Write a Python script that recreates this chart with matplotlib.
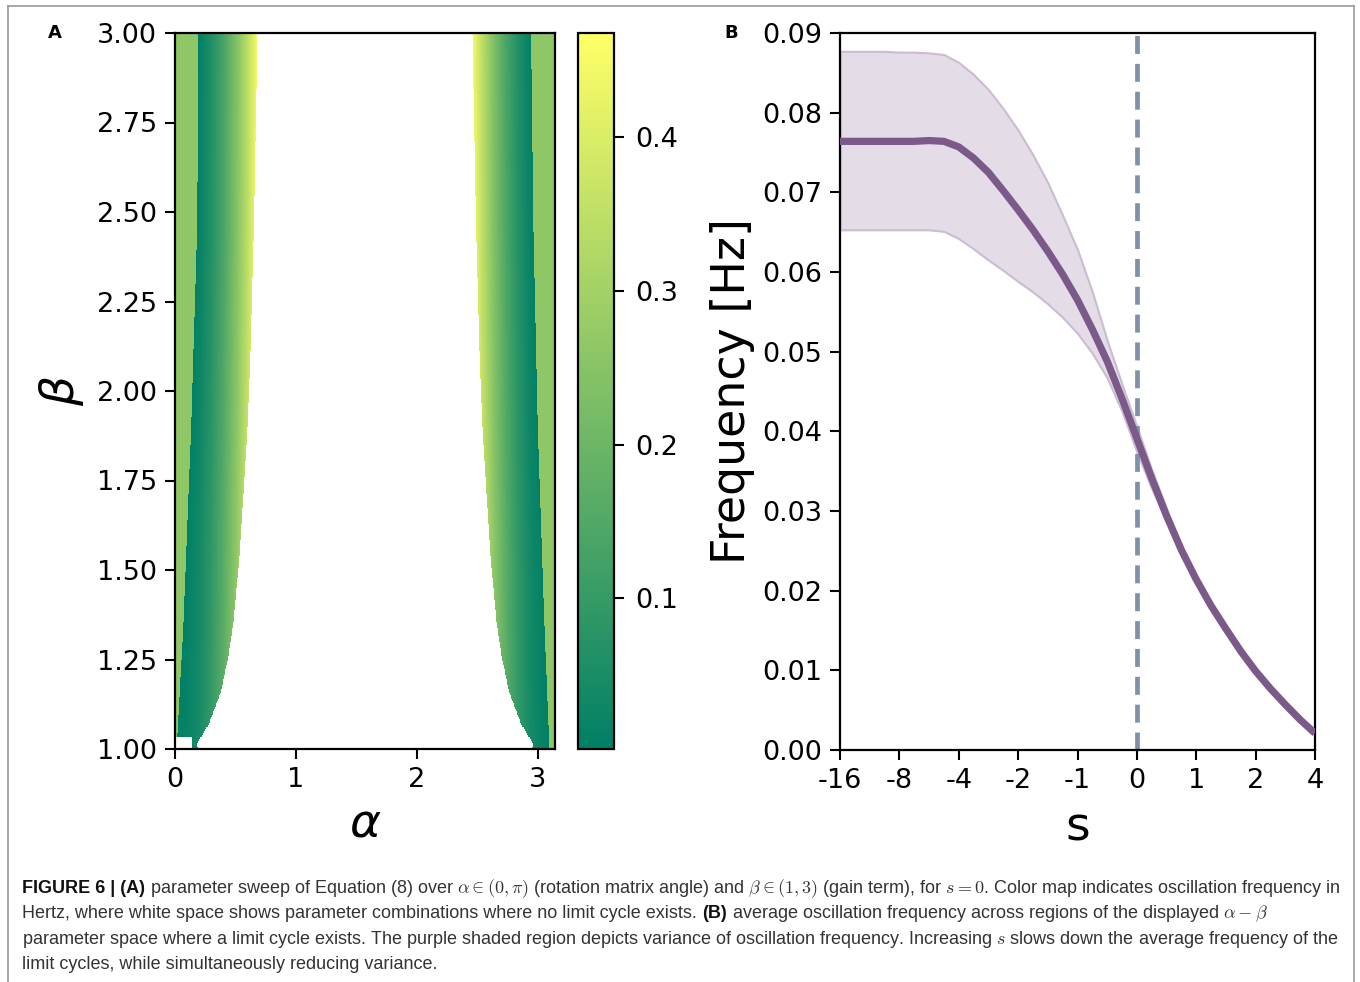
import numpy as np
import matplotlib
matplotlib.use("Agg")
import matplotlib.pyplot as plt
from matplotlib.lines import Line2D

# ---- panel A: limit-cycle frequency over (alpha, beta) ----
# outer edge of each lobe, measured from the nearest end of the alpha range
beta_edge = [1.0, 1.01, 1.067, 1.16, 1.255, 1.35, 1.535, 1.72, 1.905, 2.09, 2.46, 3.0]
lobe_reach = [0.19, 0.175, 0.276, 0.38, 0.437, 0.479, 0.53, 0.565, 0.598, 0.62, 0.65, 0.68]
# dark ridge (lowest frequency) inside each lobe
beta_ridge_left = [1.0, 1.35, 1.9, 2.46, 3.0]
ridge_left = [0.01, 0.066, 0.13, 0.18, 0.19]
beta_ridge_right = [1.0, 1.35, 1.905, 2.46, 3.0]
ridge_right = [0.042, 0.084, 0.139, 0.175, 0.194]
# frequency rise along alpha, away from the ridge
rise_alpha = [0.0, 0.1, 0.2, 0.3, 0.4, 0.5, 0.6, 0.7]
rise_freq = [0.0, 0.012, 0.042, 0.095, 0.17, 0.265, 0.38, 0.515]
ridge_freq = 0.006
strip_freq = 0.265
notch_beta, notch_alpha = 1.03, 0.14
cbar_ticks = [0.1, 0.2, 0.3, 0.4]

# ---- panel B: mean frequency vs s (read at quarter steps of the tick index) ----
s_labels = ['-16', '-8', '-4', '-2', '-1', '0', '1', '2', '4']
s_pos = [i * 0.25 for i in range(33)]
freq_mean = [0.0764, 0.0764, 0.0764, 0.0764, 0.0764, 0.0764, 0.0765, 0.0764, 0.0757,
             0.0743, 0.0725, 0.0702, 0.0678, 0.0653, 0.0626, 0.0597, 0.0565, 0.0528,
             0.0488, 0.0441, 0.0391, 0.0341, 0.0294, 0.0251, 0.0214, 0.0181, 0.0152,
             0.0124, 0.0099, 0.0077, 0.0057, 0.0038, 0.0021]
freq_hi = [0.0877, 0.0877, 0.0877, 0.0877, 0.0876, 0.0876, 0.0875, 0.0873, 0.0863,
           0.0848, 0.0829, 0.0805, 0.0778, 0.0747, 0.0712, 0.0671, 0.0628, 0.0575,
           0.0514, 0.0459, 0.0406, 0.0352, 0.0303, 0.0256, 0.0216, 0.0181, 0.0152,
           0.0124, 0.0099, 0.0077, 0.0057, 0.0038, 0.0021]
freq_lo = [0.0653, 0.0653, 0.0653, 0.0653, 0.0653, 0.0653, 0.0653, 0.0651, 0.0642,
           0.0629, 0.0615, 0.0602, 0.0588, 0.0575, 0.0560, 0.0543, 0.0523, 0.0498,
           0.0467, 0.0425, 0.0374, 0.0328, 0.0287, 0.0249, 0.0212, 0.0181, 0.0152,
           0.0124, 0.0099, 0.0077, 0.0057, 0.0038, 0.0021]
s_zero = 5

W, H = 1360, 982
fig = plt.figure(figsize=(W / 100, H / 100), dpi=100)
plt.rcParams['font.family'] = 'DejaVu Sans'


def px_axes(l, t, r, b):
    return fig.add_axes([l / W, 1 - b / H, (r - l) / W, (b - t) / H])


axA = px_axes(175, 33, 555, 749)
cax = px_axes(578, 33, 614, 749)
axB = px_axes(840, 33, 1315, 750)

# build the frequency map
alpha = np.linspace(0, np.pi, 380)
beta = np.linspace(1, 3, 360)
A, Bt = np.meshgrid(alpha, beta)
reach = np.interp(Bt, beta_edge, lobe_reach)
rl = np.interp(Bt, beta_ridge_left, ridge_left)
rr = np.interp(Bt, beta_ridge_right, ridge_right)
freq = np.full(A.shape, np.nan)
for dist, ridge, notch in [(A, rl, (Bt < notch_beta) & (A < notch_alpha)),
                           (np.pi - A, rr, np.zeros(A.shape, bool))]:
    inside = (dist <= reach) & ~notch
    grad = ridge_freq + np.interp(dist, rise_alpha, rise_freq) - np.interp(ridge, rise_alpha, rise_freq)
    val = np.where(dist < ridge, strip_freq, grad)
    freq[inside] = val[inside]

cmap = plt.get_cmap('summer').copy()
cmap.set_bad('white')
im = axA.imshow(freq, origin='lower', extent=[0, np.pi, 1, 3], aspect='auto',
                cmap=cmap, vmin=0.002, vmax=0.468, interpolation='nearest')
axA.set_xlim(0, np.pi)
axA.set_ylim(1, 3)
axA.set_xticks([0, 1, 2, 3])
axA.set_yticks(np.arange(1, 3.01, 0.25))
axA.set_yticklabels(['%.2f' % v for v in np.arange(1, 3.01, 0.25)])
axA.set_xlabel(r'$\alpha$', fontsize=34, labelpad=6)
axA.set_ylabel(r'$\beta$', fontsize=34, labelpad=8)

cb = fig.colorbar(im, cax=cax, ticks=cbar_ticks)
cb.ax.set_yticklabels([str(t) for t in cbar_ticks])
cb.outline.set_linewidth(1.6)
cax.tick_params(labelsize=19.5, length=7, width=1.5, pad=8)

# panel B
axB.fill_between(s_pos, freq_lo, freq_hi, facecolor='#e4dce7', edgecolor='#cbbcd1',
                 linewidth=1.5, zorder=1)
axB.axvline(s_zero, color='#8090a6', lw=3.4, dashes=(3.8, 2.1), zorder=2)
axB.plot(s_pos, freq_mean, color='#7b5a89', lw=5.2, solid_capstyle='butt',
         solid_joinstyle='round', zorder=3)
axB.set_xlim(0, len(s_labels) - 1)
axB.set_ylim(0, 0.09)
axB.set_xticks(range(len(s_labels)))
axB.set_xticklabels(s_labels)
axB.set_yticks(np.arange(0, 0.0901, 0.01))
axB.set_yticklabels(['%.2f' % v for v in np.arange(0, 0.0901, 0.01)])
axB.set_xlabel('s', fontsize=34, labelpad=8)
axB.set_ylabel('Frequency [Hz]', fontsize=33, labelpad=5)

for ax in (axA, axB):
    ax.tick_params(labelsize=19.5, length=7, width=1.5, pad=6)
    for sp in ax.spines.values():
        sp.set_linewidth(1.6)

fig.text(55 / W, 1 - 33 / H, 'A', fontsize=13, fontweight='bold', ha='center', va='center')
fig.text(731 / W, 1 - 33 / H, 'B', fontsize=13, fontweight='bold', ha='center', va='center')

# open frame around the figure
for xs, ys in [([8, 8], [982, 6]), ([8, 1354], [6, 6]), ([1354, 1354], [6, 982])]:
    fig.add_artist(Line2D([x / W for x in xs], [1 - y / H for y in ys],
                          color='#9a9a9a', lw=1.2))

# caption, drawn run by run so that bold pieces sit inline
cap_fs = 13.0
cap_lines = [
    [('FIGURE 6 | (A)', True),
     (r'parameter sweep of Equation (8) over $\alpha \in (0,\pi)$ (rotation matrix angle) and '
      r'$\beta \in (1,3)$ (gain term), for $s = 0$. Color map indicates oscillation frequency in', False)],
    [('Hertz, where white space shows parameter combinations where no limit cycle exists.', False),
     ('(B)', True),
     (r'average oscillation frequency across regions of the displayed $\alpha - \beta$', False)],
    [(r'parameter space where a limit cycle exists. The purple shaded region depicts variance of '
      r'oscillation frequency. Increasing $s$ slows down the average frequency of the', False)],
    [('limit cycles, while simultaneously reducing variance.', False)],
]
renderer = fig.canvas.get_renderer()
space = cap_fs * 0.278 * 100 / 72
for i, runs in enumerate(cap_lines):
    x = 22
    y = 893 + i * 25.3
    for txt, bold in runs:
        t = fig.text(x / W, 1 - y / H, txt, fontsize=cap_fs, family='Liberation Sans',
                     fontweight='bold' if bold else 'normal', math_fontfamily='cm',
                     color='#111111' if bold else '#333333', va='baseline')
        x += t.get_window_extent(renderer).width + space

fig.savefig('out.png', dpi=100)
